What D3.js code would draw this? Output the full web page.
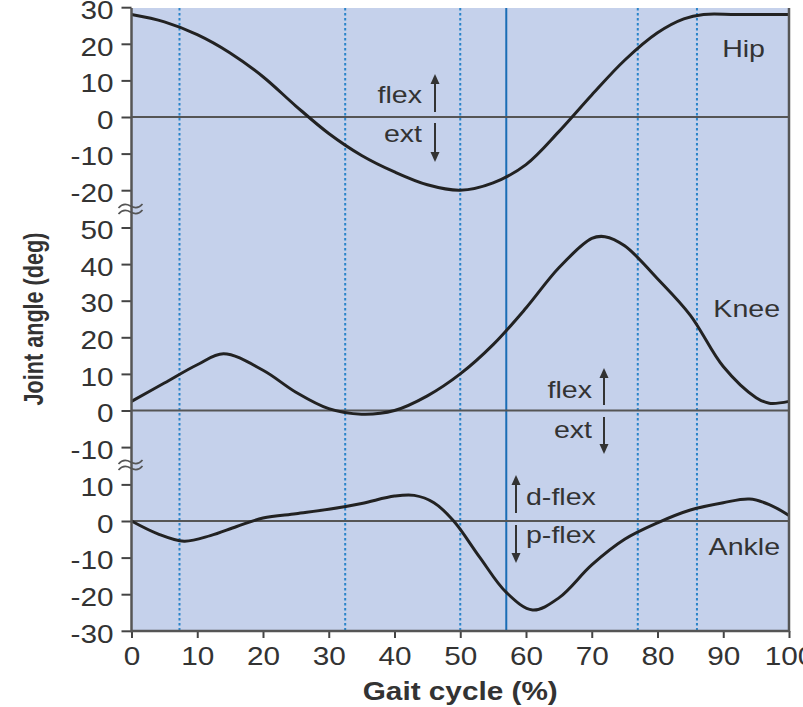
<!DOCTYPE html>
<html>
<head>
<meta charset="utf-8">
<script src="https://cdn.jsdelivr.net/npm/d3@7"></script>
<style>
  body { margin: 0; background: #fff; overflow: hidden; }
  text { font-family: "Liberation Sans", Arial, sans-serif; fill: #333; }
</style>
</head>
<body>
<div id="chart"></div>
<script>
// gait cycle samples (%)
const hipPct   = [0, 5, 10, 15, 20, 25, 30, 35, 40, 45, 50, 55, 60, 65, 70, 75, 80, 84, 87, 92, 100];
const hipAngle = [28, 26, 22.5, 17.5, 11, 3, -4.5, -10.5, -15, -18.5, -20, -18, -13, -4, 6, 15.5, 23, 26.8, 28, 28, 28];

const kneePct   = [0, 5, 10, 14, 20, 25, 30, 35, 40, 45, 50, 55, 60, 65, 70, 72, 75, 80, 85, 90, 95, 97, 100];
const kneeAngle = [2.5, 7.5, 12.5, 15.5, 11, 5, 0.5, -1, 0, 4, 10, 18, 28, 39, 47, 47.5, 45, 36, 26, 12, 3.5, 2, 2.5];

const anklePct   = [0, 4, 8, 12, 16, 20, 25, 30, 35, 40, 43, 46, 49, 53, 57, 61, 65, 70, 75, 80, 85, 90, 94, 97, 100];
const ankleAngle = [0, -3.5, -5.5, -4, -1.5, 0.8, 2, 3.2, 4.8, 6.8, 7, 5, 0, -10, -19.5, -24.3, -21, -12, -5, -0.5, 3, 5, 6, 4.5, 1.5];

// phase markers (%)
const dottedEvents = [7.3, 32.5, 50, 77, 86];
const toeOff = 57;

const hipTicks   = [30, 20, 10, 0, -10, -20];
const kneeTicks  = [50, 40, 30, 20, 10, 0, -10];
const ankleTicks = [10, 0, -10, -20, -30];
const xTicks     = [0, 10, 20, 30, 40, 50, 60, 70, 80, 90, 100];

const W = 803, H = 707;
const pLeft = 131.5, pRight = 789, pTop = 8, pBottom = 631;
const pxPerDeg = 3.66;
const widen = 1.19;   // the reference type is set wide

const svg = d3.select("#chart").append("svg")
    .attr("width", W).attr("height", H);

const x = d3.scaleLinear().domain([0, 100]).range([pLeft, pRight]);

// three stacked panels, each with its own linear scale and the same deg/px
const yHip   = d3.scaleLinear().domain([0, 10]).range([117, 117 - 10 * pxPerDeg]);
const yKnee  = d3.scaleLinear().domain([0, 10]).range([410.5, 410.5 - 10 * pxPerDeg]);
const yAnkle = d3.scaleLinear().domain([0, 10]).range([521, 521 - 10 * pxPerDeg]);

// background
svg.append("rect")
    .attr("x", pLeft).attr("y", pTop)
    .attr("width", pRight - pLeft).attr("height", pBottom - pTop)
    .attr("fill", "#c5d1eb");

// event lines
svg.selectAll(".evt")
  .data(dottedEvents)
  .enter()
  .append("line")
    .attr("x1", d => x(d)).attr("x2", d => x(d))
    .attr("y1", pTop).attr("y2", pBottom)
    .attr("stroke", "#2a84c9")
    .attr("stroke-width", 2)
    .attr("stroke-dasharray", "2.5,2.5");

svg.append("line")
    .attr("x1", x(toeOff)).attr("x2", x(toeOff))
    .attr("y1", pTop).attr("y2", pBottom)
    .attr("stroke", "#1a6db5")
    .attr("stroke-width", 2);

// zero lines
[yHip, yKnee, yAnkle].forEach(y => {
  svg.append("line")
      .attr("x1", pLeft).attr("x2", pRight)
      .attr("y1", y(0)).attr("y2", y(0))
      .attr("stroke", "#555")
      .attr("stroke-width", 2);
});

// curves
const series = [
  {pct: hipPct, ang: hipAngle, y: yHip},
  {pct: kneePct, ang: kneeAngle, y: yKnee},
  {pct: anklePct, ang: ankleAngle, y: yAnkle}
];
series.forEach(s => {
  const pts = s.pct.map((p, i) => [p, s.ang[i]]);
  const line = d3.line()
      .x(d => x(d[0]))
      .y(d => s.y(d[1]))
      .curve(d3.curveCatmullRom.alpha(0.5));
  svg.append("path")
      .datum(pts)
      .attr("d", line)
      .attr("fill", "none")
      .attr("stroke", "#222")
      .attr("stroke-width", 3);
});

// axes
function leftAxis(y, ticks) {
  const g = svg.append("g")
      .attr("transform", `translate(${pLeft},0)`)
      .call(d3.axisLeft(y).tickValues(ticks).tickSize(10).tickFormat(d => String(d)));
  g.select(".domain").remove();
  g.selectAll(".tick line").attr("stroke", "#444").attr("stroke-width", 2);
  g.selectAll("text")
      .attr("x", null)
      .attr("dy", "0.45em")
      .attr("transform", `translate(-18,0) scale(${widen},1)`)
      .attr("fill", "#333")
      .style("font-size", "25px")
      .style("font-family", "'Liberation Sans', Arial, sans-serif");
}
leftAxis(yHip, hipTicks);
leftAxis(yKnee, kneeTicks);
leftAxis(yAnkle, ankleTicks);

const gx = svg.append("g")
    .attr("transform", `translate(0,${pBottom})`)
    .call(d3.axisBottom(x).tickValues(xTicks).tickSize(7).tickPadding(9).tickFormat(d => String(d)));
gx.select(".domain").remove();
gx.selectAll(".tick line").attr("stroke", "#444").attr("stroke-width", 2);
gx.selectAll("text")
    .attr("transform", `scale(${widen},1)`)
    .attr("fill", "#333")
    .style("font-size", "25px")
    .style("font-family", "'Liberation Sans', Arial, sans-serif");

// frame: left, bottom, right
svg.append("path")
    .attr("d", `M${pLeft},${pTop}V${pBottom}H${pRight}V${pTop}`)
    .attr("fill", "none")
    .attr("stroke", "#555")
    .attr("stroke-width", 2.5);

// axis break marks
[209, 465].forEach(by => {
  [-3, 3].forEach(off => {
    const yy = by + off;
    svg.append("path")
        .attr("d", `M${pLeft - 13},${yy + 2} q5,-6 12,-2 t12,-2`)
        .attr("fill", "none")
        .attr("stroke", "#555")
        .attr("stroke-width", 1.6);
  });
});

// text helper: wide-set type like the reference
function label(tx, ty, txt, anchor, size, weight) {
  svg.append("text")
      .attr("transform", `translate(${tx},${ty}) scale(${widen},1)`)
      .attr("text-anchor", anchor)
      .style("font-size", size + "px")
      .style("font-weight", weight || "normal")
      .text(txt);
}

// axis titles
label(x(50), 700, "Gait cycle (%)", "middle", 25, "bold");

svg.append("text")
    .attr("transform", "translate(43,319) rotate(-90) scale(0.9,1.17)")
    .attr("text-anchor", "middle")
    .style("font-size", "24px").style("font-weight", "bold")
    .text("Joint angle (deg)");

// panel labels
label(765, 57, "Hip", "end", 24);
label(780, 317, "Knee", "end", 24);
label(780, 555, "Ankle", "end", 24);

// direction annotations
function arrow(ax, y1, y2) {
  const dir = y2 < y1 ? 1 : -1;   // head points toward y2
  svg.append("line")
      .attr("x1", ax).attr("x2", ax)
      .attr("y1", y1).attr("y2", y2 + dir * 8)
      .attr("stroke", "#333").attr("stroke-width", 2);
  svg.append("path")
      .attr("d", `M${ax},${y2} L${ax - 4.5},${y2 + dir * 10} L${ax + 4.5},${y2 + dir * 10} Z`)
      .attr("fill", "#333");
}

// hip
label(422, 103, "flex", "end", 24);
arrow(435, 112, 74);
label(422, 142, "ext", "end", 24);
arrow(435, 123, 162);
// knee
label(592, 398, "flex", "end", 24);
arrow(604, 405, 368);
label(592, 438, "ext", "end", 24);
arrow(604, 417, 454);
// ankle
label(526, 505, "d-flex", "start", 24);
arrow(516, 513, 475);
label(526, 543, "p-flex", "start", 24);
arrow(516, 525, 563);
</script>
</body>
</html>
